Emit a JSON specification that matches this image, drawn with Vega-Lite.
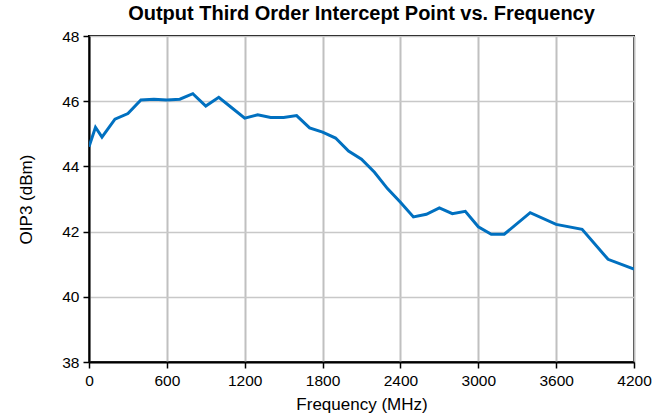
{
  "$schema": "https://vega.github.io/schema/vega-lite/v6.json",
  "width": 545,
  "height": 326,
  "autosize": "none",
  "padding": {"left": 89, "top": 36, "right": 31, "bottom": 55},
  "background": "white",
  "title": {
    "text": "Output Third Order Intercept Point vs. Frequency",
    "font": "Liberation Sans",
    "fontSize": 20,
    "fontWeight": "bold",
    "color": "black",
    "anchor": "middle",
    "offset": 5
  },
  "config": {
    "view": {"stroke": "black", "strokeWidth": 2},
    "axis": {
      "labelFont": "Liberation Sans",
      "titleFont": "Liberation Sans",
      "labelFontSize": 15.5,
      "titleFontSize": 17,
      "titleFontWeight": "normal",
      "labelColor": "black",
      "titleColor": "black",
      "domainColor": "black",
      "domainWidth": 2,
      "tickColor": "black",
      "tickWidth": 1.5,
      "tickSize": 6,
      "labelFlush": false
    }
  },
  "data": {
    "values": [
      {"f": 0, "oip3": 44.6},
      {"f": 50, "oip3": 45.2},
      {"f": 100, "oip3": 44.9},
      {"f": 200, "oip3": 45.45},
      {"f": 300, "oip3": 45.62},
      {"f": 400, "oip3": 46.04},
      {"f": 500, "oip3": 46.06},
      {"f": 600, "oip3": 46.04},
      {"f": 700, "oip3": 46.06},
      {"f": 800, "oip3": 46.23},
      {"f": 900, "oip3": 45.85},
      {"f": 1000, "oip3": 46.12},
      {"f": 1100, "oip3": 45.8},
      {"f": 1200, "oip3": 45.48},
      {"f": 1300, "oip3": 45.58},
      {"f": 1400, "oip3": 45.5},
      {"f": 1500, "oip3": 45.5},
      {"f": 1600, "oip3": 45.56},
      {"f": 1700, "oip3": 45.18},
      {"f": 1800, "oip3": 45.05},
      {"f": 1900, "oip3": 44.87},
      {"f": 2000, "oip3": 44.47},
      {"f": 2100, "oip3": 44.22},
      {"f": 2200, "oip3": 43.82},
      {"f": 2300, "oip3": 43.32},
      {"f": 2400, "oip3": 42.9},
      {"f": 2500, "oip3": 42.45},
      {"f": 2600, "oip3": 42.53},
      {"f": 2700, "oip3": 42.73},
      {"f": 2800, "oip3": 42.55},
      {"f": 2900, "oip3": 42.62},
      {"f": 3000, "oip3": 42.15},
      {"f": 3100, "oip3": 41.92},
      {"f": 3200, "oip3": 41.92},
      {"f": 3400, "oip3": 42.58},
      {"f": 3600, "oip3": 42.22},
      {"f": 3800, "oip3": 42.07},
      {"f": 4000, "oip3": 41.15},
      {"f": 4200, "oip3": 40.85}
    ]
  },
  "mark": {"type": "line", "color": "#0070c0", "strokeWidth": 3, "clip": true},
  "encoding": {
    "x": {
      "field": "f",
      "type": "quantitative",
      "title": "Frequency (MHz)",
      "scale": {"domain": [0, 4200], "nice": false, "zero": false},
      "axis": {
        "values": [0, 600, 1200, 1800, 2400, 3000, 3600, 4200],
        "format": "d",
        "gridColor": "#c0c0c0",
        "gridWidth": 2,
        "labelPadding": 5,
        "titlePadding": 8
      }
    },
    "y": {
      "field": "oip3",
      "type": "quantitative",
      "title": "OIP3 (dBm)",
      "scale": {"domain": [38, 48], "nice": false, "zero": false},
      "axis": {
        "values": [38, 40, 42, 44, 46, 48],
        "gridColor": "#c8c8c8",
        "gridWidth": 1.5,
        "labelPadding": 4,
        "titlePadding": 26
      }
    }
  }
}
